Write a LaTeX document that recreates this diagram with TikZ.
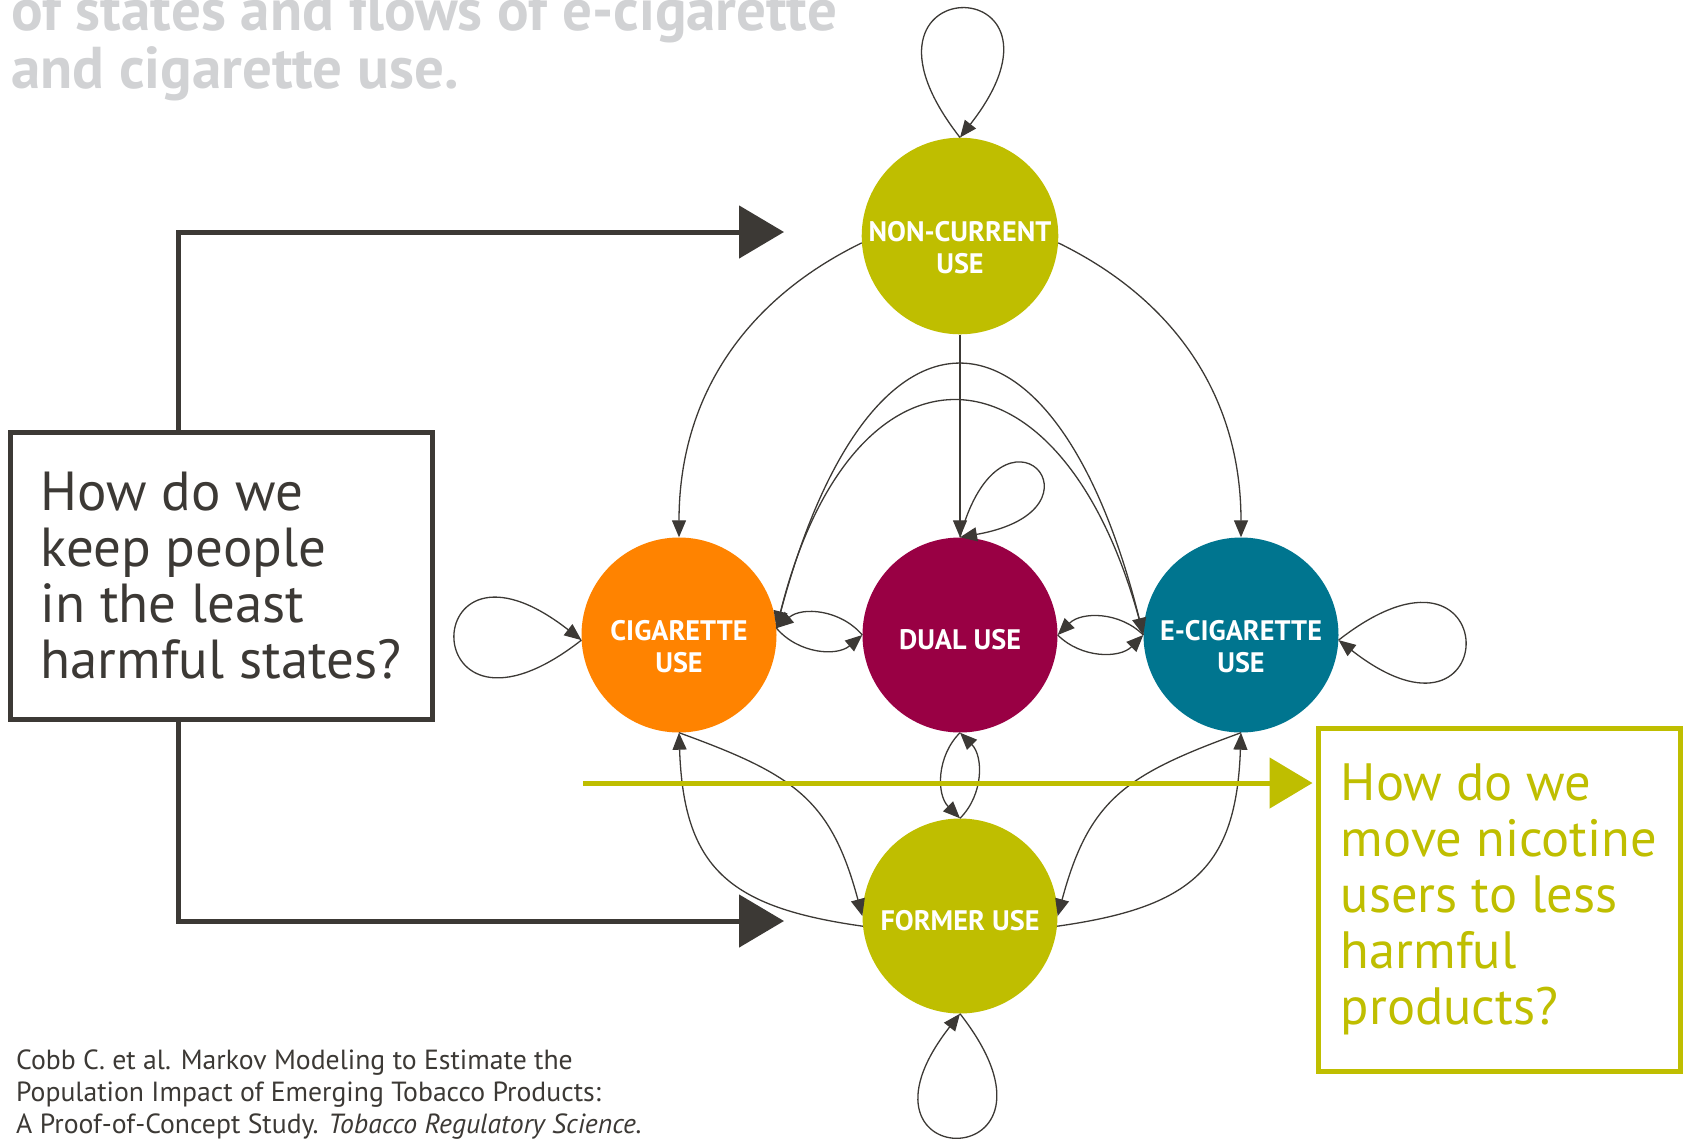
\documentclass[tikz,border=0pt]{standalone}
\usepackage{fontspec}
\setmainfont{PT Sans}
\usetikzlibrary{arrows.meta}
\definecolor{ink}{RGB}{60,57,53}
\definecolor{limeq}{RGB}{191,190,0}
\definecolor{cigorange}{RGB}{255,131,0}
\definecolor{dualred}{RGB}{153,0,68}
\definecolor{ecigteal}{RGB}{0,117,143}
\definecolor{titlegray}{RGB}{209,210,212}

\begin{document}
\begin{tikzpicture}[
    x=1pt, y=1pt,
    statenode/.style={circle, minimum size=195pt, inner sep=0pt, text=white, align=center, text depth=0pt, text height=28pt, font=\bfseries\fontsize{28.2}{32}\selectfont},
    twolines/.style={text height=74pt},
    flow/.style={-{Triangle[length=17pt, width=14pt]}, line width=1.3pt, draw=ink, fill=none},
    question/.style={draw, line width=5pt, align=left, inner sep=0pt},
    bigarrow/.style={-{Triangle[length=45pt, width=52pt]}, line width=5pt}
]
    \useasboundingbox (0,0) rectangle (1684,-1141);

    % Title, cut at the top
    \node[anchor=base west, align=left, inner sep=0pt, text=titlegray, font=\bfseries\fontsize{59}{58}\selectfont] (title) at (11,-88) {of states and flows of e-cigarette\\and cigarette use.};

    % States
    \node[statenode, twolines, fill=limeq] (nc) at (960,-236) {NON-CURRENT\\USE};
    \node[statenode, twolines, fill=cigorange] (cig) at (679,-635) {CIGARETTE\\USE};
    \node[statenode, fill=dualred] (dual) at (960,-635) {DUAL USE};
    \node[statenode, twolines, fill=ecigteal] (ecig) at (1241,-635) {E-CIGARETTE\\USE};
    \node[statenode, fill=limeq] (former) at (960,-916) {FORMER USE};

    % Self loops
    \draw[flow] (nc.north) to[out=128, in=52, min distance=217pt] (nc.north);
    \draw[flow] (cig.183) to[out=-142, in=142, min distance=213pt] (cig.183);
    \draw[flow] (ecig.-3) to[out=38, in=-38, min distance=213pt] (ecig.-3);
    \draw[flow] (dual.north) to[out=75, in=10, min distance=160pt] (dual.north);
    \draw[flow] (former.south) to[out=-52, in=-128, min distance=208pt] (former.south);

    % From non-current use
    \draw[flow] (nc.south) -- (dual.north);
    \draw[flow] (nc.184) to[out=-154, in=90] (cig.north);
    \draw[flow] (nc.-4) to[out=-26, in=90] (ecig.north);

    % Between the products
    \draw[flow] (cig.4) to[out=76, in=104, looseness=2.55] (ecig.west);
    \draw[flow] (ecig.west) to[out=104, in=76, looseness=2.2] (cig.4);
    \draw[flow] (dual.west) to[bend right=45] (cig.4);
    \draw[flow] (cig.4) to[bend right=45] (dual.west);
    \draw[flow] (ecig.west) to[bend right=45] (dual.east);
    \draw[flow] (dual.east) to[bend right=45] (ecig.west);

    % To and from former use
    \draw[flow] (dual.south) to[bend right=45] (former.north);
    \draw[flow] (former.north) to[bend right=45] (dual.south);
    \draw[flow] (former.186) to[out=172, in=-88, looseness=1.3] (cig.south);
    \draw[flow] (cig.south) to[out=-20, in=105, looseness=1.2] (former.west);
    \draw[flow] (former.-6) to[out=8, in=-92, looseness=1.3] (ecig.south);
    \draw[flow] (ecig.south) to[out=-160, in=75, looseness=1.2] (former.east);

    % Questions
    \node[question, draw=ink, text=ink, font=\fontsize{55}{56}\selectfont, minimum width=422pt, minimum height=287pt] (keepq) at (221,-575.5) {How do we\\keep people\\in the least\\harmful states?};
    \node[question, draw=limeq, text=limeq, font=\fontsize{52.5}{56}\selectfont, minimum width=362pt, minimum height=343pt] (moveq) at (1499,-899.5) {How do we\\move nicotine\\users to less\\harmful\\products?};

    % Big arrows
    \coordinate (toptip) at (784,-232);
    \coordinate (bottip) at (784,-921);
    \coordinate (greenstart) at (583,-783);
    \draw[bigarrow, ink] ([xshift=-43pt]keepq.north) |- (toptip);
    \draw[bigarrow, ink] ([xshift=-43pt]keepq.south) |- (bottip);
    \draw[bigarrow, limeq, -{Triangle[length=43pt, width=50pt]}] (greenstart) -- ([xshift=-3pt]greenstart -| moveq.west);

    % Source
    \node[anchor=base west, align=left, inner sep=0pt, text=ink, font=\fontsize{27.7}{32}\selectfont] (cite) at (16,-1133) {Cobb C. et al. Markov Modeling to Estimate the\\Population Impact of Emerging Tobacco Products:\\A Proof-of-Concept Study. \textit{Tobacco Regulatory Science.}};
\end{tikzpicture}
\end{document}
